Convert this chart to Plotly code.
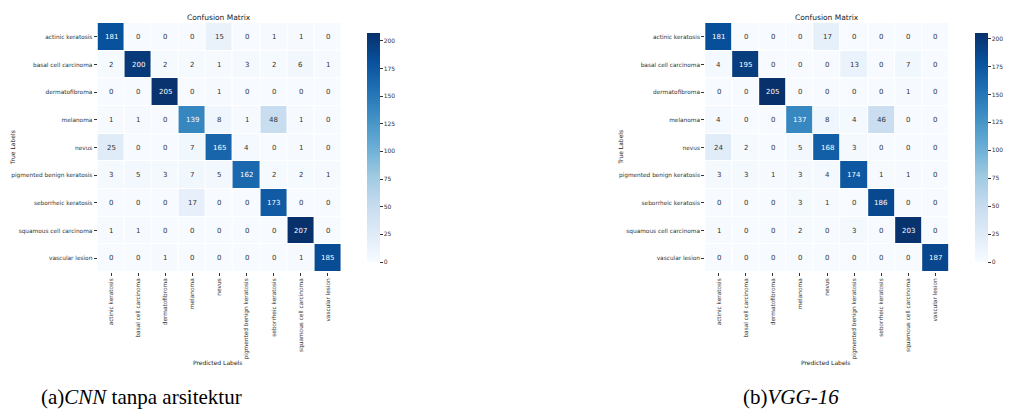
import plotly.graph_objects as go

labels = ["actinic keratosis", "basal cell carcinoma", "dermatofibroma", "melanoma", "nevus",
          "pigmented benign keratosis", "seborrheic keratosis", "squamous cell carcinoma", "vascular lesion"]

cm_cnn = [
    [181, 0, 0, 0, 15, 0, 1, 1, 0],
    [2, 200, 2, 2, 1, 3, 2, 6, 1],
    [0, 0, 205, 0, 1, 0, 0, 0, 0],
    [1, 1, 0, 139, 8, 1, 48, 1, 0],
    [25, 0, 0, 7, 165, 4, 0, 1, 0],
    [3, 5, 3, 7, 5, 162, 2, 2, 1],
    [0, 0, 0, 17, 0, 0, 173, 0, 0],
    [1, 1, 0, 0, 0, 0, 0, 207, 0],
    [0, 0, 1, 0, 0, 0, 0, 1, 185],
]

cm_vgg = [
    [181, 0, 0, 0, 17, 0, 0, 0, 0],
    [4, 195, 0, 0, 0, 13, 0, 7, 0],
    [0, 0, 205, 0, 0, 0, 0, 1, 0],
    [4, 0, 0, 137, 8, 4, 46, 0, 0],
    [24, 2, 0, 5, 168, 3, 0, 0, 0],
    [3, 3, 1, 3, 4, 174, 1, 1, 0],
    [0, 0, 0, 3, 1, 0, 186, 0, 0],
    [1, 0, 0, 2, 0, 3, 0, 203, 0],
    [0, 0, 0, 0, 0, 0, 0, 0, 187],
]

cbar_ticks = [0, 25, 50, 75, 100, 125, 150, 175, 200]
captions = ["(a)<i>CNN</i> tanpa arsitektur", "(b)<i>VGG-16</i>"]

blues = ['rgb(247,251,255)', 'rgb(222,235,247)', 'rgb(198,219,239)', 'rgb(158,202,225)',
         'rgb(107,174,214)', 'rgb(66,146,198)', 'rgb(33,113,181)', 'rgb(8,81,156)', 'rgb(8,48,107)']
cscale = [[i / 8, c] for i, c in enumerate(blues)]

W, H = 1013, 410
def px(x): return x / W
def py(y): return 1 - y / H

FONT = "DejaVu Sans"
fig = go.Figure()

panels = [
    dict(cm=cm_cnn, x0=100, x1=350, cb=366, xa="x", ya="y", cap_x=145),
    dict(cm=cm_vgg, x0=723, x1=973, cb=989, xa="x2", ya="y2", cap_x=811),
]
top, bot = 23, 272
annotations = []
for i, p in enumerate(panels):
    cm = p["cm"]
    zmax = max(max(r) for r in cm)
    fig.add_trace(go.Heatmap(
        z=cm, x=labels, y=labels, xaxis=p["xa"], yaxis=p["ya"],
        colorscale=cscale, zmin=0, zmax=zmax, xgap=1, ygap=1,
        hoverinfo="skip",
        colorbar=dict(x=px(p["cb"]), xanchor="left", xref="paper", y=py(top), yanchor="top",
                      len=(bot - top) / H, lenmode="fraction", thickness=13, outlinewidth=0,
                      tickvals=cbar_ticks, ticks="outside", ticklen=3, tickcolor="#333",
                      tickfont=dict(family=FONT, size=6, color="#333")),
    ))
    for r in range(9):
        for c in range(9):
            v = cm[r][c]
            annotations.append(dict(
                x=labels[c], y=labels[r], xref=p["xa"], yref=p["ya"], text=str(v),
                showarrow=False, font=dict(family=FONT, size=7, color="white" if v > 100 else "#333")))
    cx = (p["x0"] + p["x1"]) / 2
    annotations.append(dict(x=px(cx), y=py(17), xref="paper", yref="paper", text="Confusion Matrix",
                            xanchor="center", yanchor="middle",
                            showarrow=False, font=dict(family=FONT, size=7.5, color="#222")))
    annotations.append(dict(x=px(cx - 2), y=py(362), xref="paper", yref="paper", text="Predicted Labels",
                            xanchor="center", yanchor="middle",
                            showarrow=False, font=dict(family=FONT, size=6, color="#222")))
    annotations.append(dict(x=px(p["x0"] - 87), y=py((top + bot) / 2), xref="paper", yref="paper",
                            text="True Labels", textangle=-90, xanchor="center", yanchor="middle",
                            showarrow=False, font=dict(family=FONT, size=6, color="#222")))
    annotations.append(dict(x=px(p["cap_x"]), y=py(397), xref="paper", yref="paper", text=captions[i],
                            xanchor="center", yanchor="middle",
                            showarrow=False, font=dict(family="Liberation Serif", size=21, color="black")))

axis_common = dict(showgrid=False, zeroline=False, ticks="outside", ticklen=3, tickcolor="#333",
                   tickfont=dict(family=FONT, size=5.8, color="#333"), showline=False)
fig.update_layout(
    width=W, height=H, margin=dict(l=0, r=0, t=0, b=0),
    paper_bgcolor="white", plot_bgcolor="white", showlegend=False,
    annotations=annotations,
    xaxis=dict(domain=[px(100), px(350)], anchor="y", tickangle=-90, **axis_common),
    yaxis=dict(domain=[py(bot), py(top)], anchor="x", autorange="reversed", **axis_common),
    xaxis2=dict(domain=[px(723), px(973)], anchor="y2", tickangle=-90, **axis_common),
    yaxis2=dict(domain=[py(bot), py(top)], anchor="x2", autorange="reversed", **axis_common),
)
fig.write_html("out.html")
